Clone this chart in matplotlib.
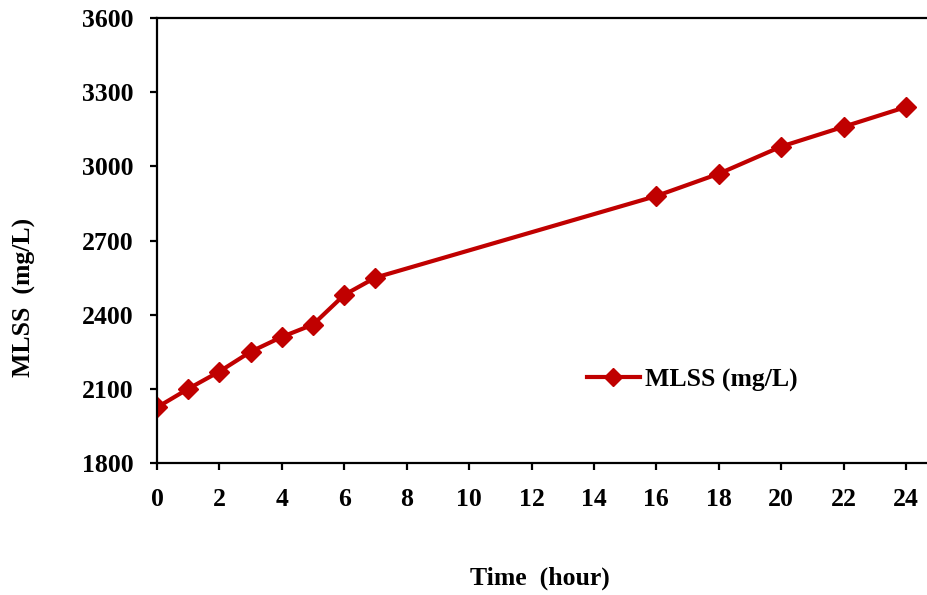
import matplotlib
matplotlib.use("Agg")
import matplotlib.pyplot as plt

# MLSS readings over the run
hours = [0, 1, 2, 3, 4, 5, 6, 7, 16, 18, 20, 22, 24]
mlss = [2025, 2100, 2170, 2250, 2310, 2360, 2480, 2550, 2880, 2970, 3080, 3160, 3240]

x_ticks = list(range(0, 25, 2))
y_ticks = list(range(1800, 3601, 300))

plt.rcParams["font.family"] = ["Liberation Serif", "DejaVu Serif"]
plt.rcParams["font.weight"] = "bold"

W, H = 927, 595
fig = plt.figure(figsize=(W / 100, H / 100), dpi=100)
ax = fig.add_axes([157 / W, 1 - 463 / H, (W - 157) / W, (463 - 18) / H])

ax.plot(hours, mlss, color="#C00000", lw=3, marker="D", ms=10,
        label="MLSS (mg/L)")

ax.set_xlim(0, 24 * (W - 157) / (906 - 157))
ax.set_ylim(1800, 3600)
ax.set_xticks(x_ticks)
ax.set_yticks(y_ticks)

for side in ("left", "bottom", "top"):
    ax.spines[side].set_linewidth(1.6)
ax.spines["right"].set_visible(False)
ax.tick_params(axis="both", direction="out", length=5, width=1.6,
               labelsize=18.5)
ax.tick_params(axis="x", pad=13)
ax.tick_params(axis="y", pad=12)

fig.text(540 / W, 1 - 578 / H, "Time  (hour)", ha="center", va="center",
         fontsize=18.5, fontweight="bold")
fig.text(24 / W, 1 - 297 / H, "MLSS  (mg/L)", ha="center", va="center",
         rotation=90, fontsize=18.5, fontweight="bold")

ax.legend(loc="center left", bbox_to_anchor=(587 / W, 1 - 380 / H),
          bbox_transform=fig.transFigure, frameon=False, fontsize=18.5,
          handlelength=2.05, handletextpad=0.2, borderpad=0, borderaxespad=0,
          markerscale=0.9)

fig.savefig("out.png", dpi=100)
